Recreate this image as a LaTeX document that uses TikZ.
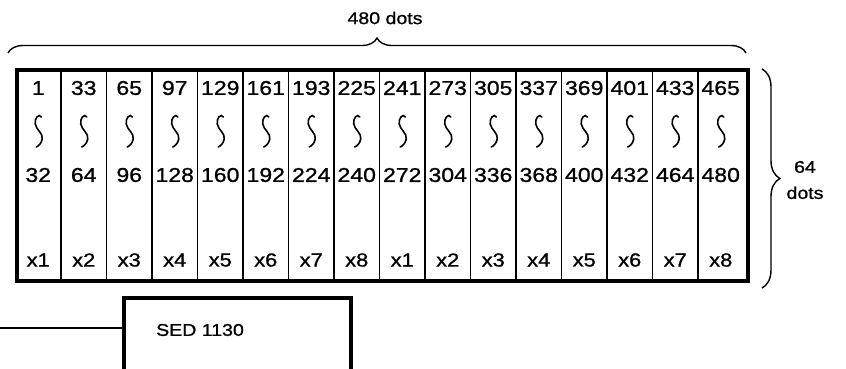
\documentclass[tikz,border=0pt]{standalone}
\usepackage{fontspec}
\setmainfont{Liberation Sans}
\newfontfamily\widesans{Liberation Sans}[FakeStretch=1.15, FakeBold=1]
\usetikzlibrary{decorations.pathreplacing}

\begin{document}
\begin{tikzpicture}[
  x=1pt, y=-1pt,
  panel/.style={draw, line width=4pt, inner sep=0pt, anchor=north west},
  divider/.style={line width=1.6pt},
  num/.style={font=\widesans\fontsize{20}{20}\selectfont, inner sep=0pt},
  xlbl/.style={font=\widesans\fontsize{19}{19}\selectfont, inner sep=0pt},
  squiggle/.style={line width=1.6pt, line cap=round},
  bracket/.style={decorate, line width=1.4pt},
  caption/.style={font=\widesans\fontsize{17}{26}\selectfont, align=center,
    inner sep=0pt},
  wire/.style={line width=1.3pt},
]
\useasboundingbox (0,0) rectangle (846,368);
\clip (0,0) rectangle (846,368);

% column rulings
\foreach \i in {1,...,15}
  \draw[divider] ({15.5+45.5*\i},68) -- ({15.5+45.5*\i},279);

% dot ranges of each column
\foreach \startdot/\enddot [count=\i] in {1/32,33/64,65/96,97/128,129/160,
    161/192,193/224,225/240,241/272,273/304,305/336,337/368,369/400,
    401/432,433/464,465/480} {
  \pgfmathsetmacro\cx{15.5+45.5*(\i-0.5)}
  \node[num] (first\i) at (\cx,88) {\startdot};
  \node[num] (last\i) at (\cx,175) {\enddot};
  \draw[squiggle] ({\cx+3},117) .. controls ({\cx+1},113) and ({\cx-4},118)
    .. ({\cx-3},124) .. controls ({\cx-2},130) and ({\cx+5},133)
    .. ({\cx+4},139) .. controls ({\cx+3},144) and ({\cx},146) .. ({\cx-2},147);
}

% driver outputs
\foreach \i [evaluate=\i as \k using {int(mod(\i-1,8)+1)}] in {1,...,16}
  \node[xlbl] (out\i) at ({15.5+45.5*(\i-0.5)},260) {x\k};

\node[panel, minimum width=731pt, minimum height=211pt] (lcd) at (15,68) {};

% size braces
\draw[bracket, decoration={brace, amplitude=15pt}] (8,53) -- (746,53);
\node[caption] (width) at (385,18) {480 dots};
\draw[bracket, decoration={brace, amplitude=18pt}] (762,69) -- (762,288);
\node[caption] (height) at (805,180) {64\\dots};

% driver chip
\node[panel, minimum width=227pt, minimum height=120pt] (sed) at (122,296) {};
\node[caption, anchor=west] (sedlbl) at ([xshift=34pt, yshift=-34pt]sed.north west)
  {SED 1130};
\coordinate (feed) at (0,328);
\draw[wire] (feed) -- (feed -| sed.west);
\end{tikzpicture}
\end{document}
